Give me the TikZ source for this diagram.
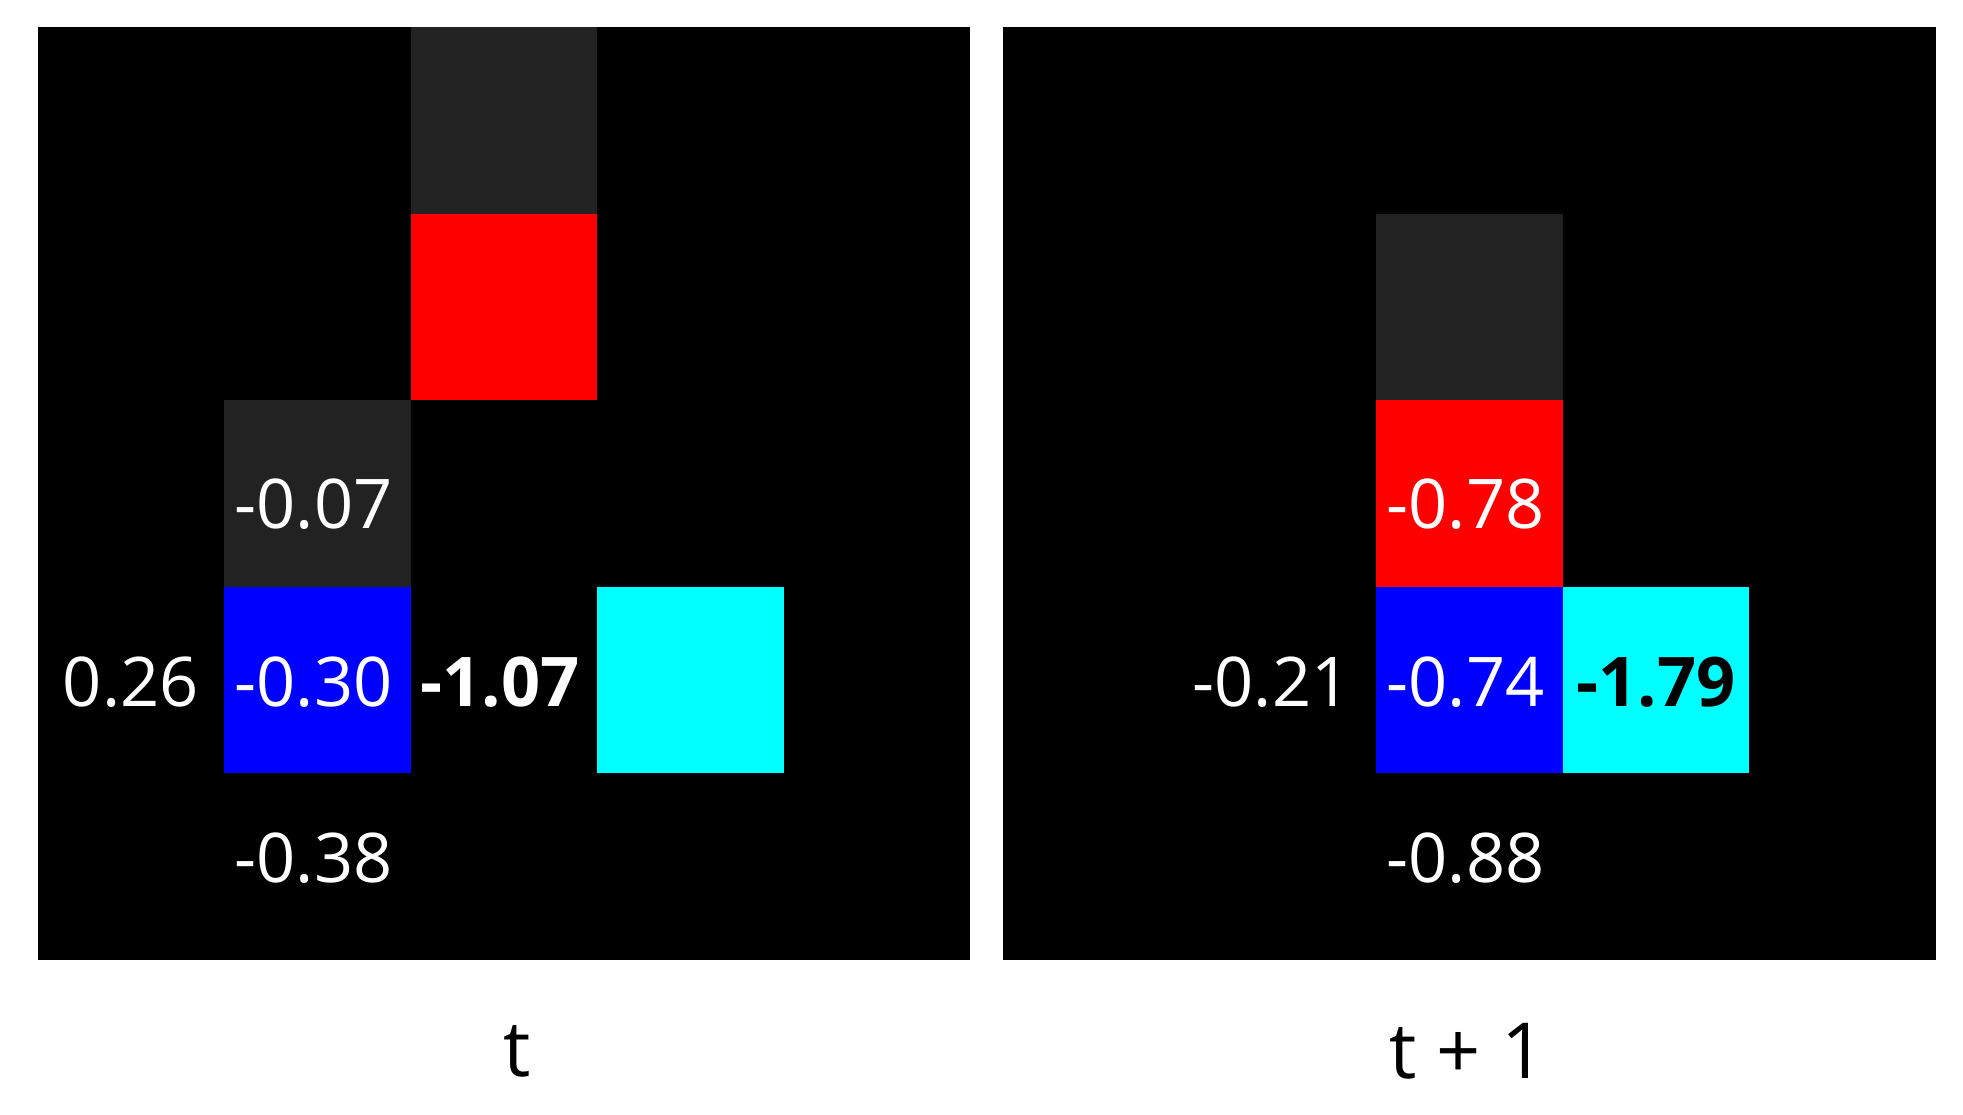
\documentclass[tikz,border=0pt]{standalone}
\usepackage{fontspec}
\setmainfont{Open Sans}
\usetikzlibrary{positioning}

\definecolor{cellgray}{RGB}{34,34,34}
\definecolor{cellred}{RGB}{255,0,0}
\definecolor{cellblue}{RGB}{0,0,255}
\definecolor{cellcyan}{RGB}{0,255,255}
\tikzset{
  val/.style={text=white, inner sep=0pt, font=\fontsize{19.5}{24}\selectfont},
  bval/.style={val, font=\fontsize{19.5}{24}\selectfont\bfseries},
  caption/.style={text=black, inner sep=0pt, font=\fontsize{22}{26}\selectfont}
}

\begin{document}
\begin{tikzpicture}
    \useasboundingbox (0,0) rectangle (19.63,11.15);

    % Panel t
    \begin{scope}[shift={(0.375,10.875)}, x=1.865cm, y=-1.865cm]
    \fill[black] (0,0) rectangle (5,5);
    \foreach \c/\r/\col in {2/0/cellgray, 2/1/cellred, 1/2/cellgray, 1/3/cellblue, 3/3/cellcyan}
        \fill[\col] (\c,\r) rectangle ++(1,1);

    % values
    \node[val] (tUp) at (1.48,2.557) {-0.07};
    \node[val] (tLeft) at (0.50,3.51) {0.26};
    \node[val] (tMid) at (1.48,3.51) {-0.30};
    \node[bval] (tRight) at (2.48,3.51) {-1.07};
    \node[val] (tDown) at (1.48,4.456) {-0.38};

    \node[caption] (tLab) at (2.57,5.49) {t};
    \end{scope}

    % Panel t+1
    \begin{scope}[shift={(10.03,10.875)}, x=1.865cm, y=-1.865cm]
    \fill[black] (0,0) rectangle (5,5);
    \foreach \c/\r/\col in {2/1/cellgray, 2/2/cellred, 2/3/cellblue, 3/3/cellcyan}
        \fill[\col] (\c,\r) rectangle ++(1,1);

    % values
    \node[val] (nUp) at (2.48,2.557) {-0.78};
    \node[val] (nLeft) at (1.44,3.51) {-0.21};
    \node[val] (nMid) at (2.48,3.51) {-0.74};
    \node[bval, text=black] (nRight) at (3.50,3.51) {-1.79};
    \node[val] (nDown) at (2.48,4.456) {-0.88};

    \node[caption] (nLab) at (2.49,5.49) {t + 1};
    \end{scope}
\end{tikzpicture}
\end{document}
